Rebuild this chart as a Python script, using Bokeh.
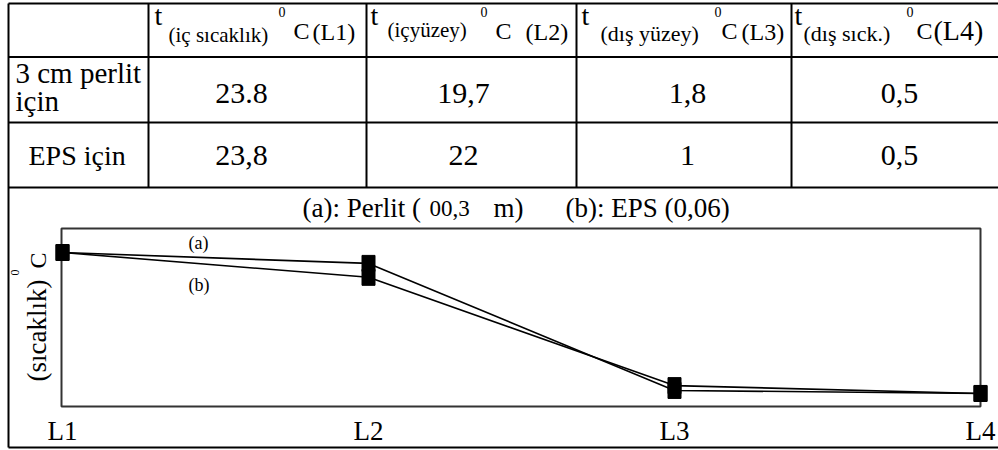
import math

from bokeh.core.properties import value
from bokeh.embed import file_html
from bokeh.models import ColumnDataSource, Range1d
from bokeh.plotting import figure
from bokeh.resources import INLINE

# ---- data -------------------------------------------------------------
stations = ["L1", "L2", "L3", "L4"]
station_idx = [0, 1, 2, 3]
header_subscripts = ["(iç sıcaklık)", "(içyüzey)", "(dış yüzey)", "(dış sıck.)"]
row_labels = ["3 cm perlit", "için", "EPS için"]
perlit_values = [23.8, 19.7, 1.8, 0.5]
eps_values = [23.8, 22.0, 1.0, 0.5]
perlit_labels = ["23.8", "19,7", "1,8", "0,5"]
eps_labels = ["23,8", "22", "1", "0,5"]
series_tags = ["(a)", "(b)"]
y_title = "(sıcaklık)"

# ---- page geometry (pixels, y grows downward) -------------------------
W, H = 998, 450
FONT = "Liberation Serif"
LINE = "black"
# the svg text sits a little low on its baseline; pull it back by this share of the size
BASE_SHIFT = 0.37

col_edges = [8, 148, 366, 576, 791]
row_edges = [3, 56.5, 122, 187, 447]
box = dict(left=61, right=980, top=228, bottom=406)

# chart scale: category index -> px, degree -> px
X0_PX, STEP_PX = 62, 306
ZERO_PX, PX_PER_DEG = 396, 6.05

p = figure(
    width=W, height=H,
    x_range=Range1d(0, W), y_range=Range1d(H, 0),
    x_axis_location=None, y_axis_location=None,
    output_backend="svg", toolbar_location=None, min_border=0,
)
p.grid.visible = False
p.outline_line_color = None
p.background_fill_color = "white"
p.border_fill_color = "white"

p.extra_x_ranges = {"chart": Range1d(-X0_PX / STEP_PX, (W - X0_PX) / STEP_PX)}
p.extra_y_ranges = {"chart": Range1d((ZERO_PX - H) / PX_PER_DEG, ZERO_PX / PX_PER_DEG)}


def txt(x, y, s, size, align="left", vertical=False):
    shift = BASE_SHIFT * size
    if vertical:
        x, y, angle = x - shift, y, math.pi / 2
    else:
        x, y, angle = x, y - shift, 0.0
    p.text(
        x=[x], y=[y], text=[s],
        text_font=value(FONT), text_font_size=f"{size}px",
        text_align=align, text_baseline="alphabetic",
        text_color="black", angle=angle,
    )


# ---- table rules ------------------------------------------------------
hy = row_edges
p.segment(x0=[col_edges[0]] * len(hy), y0=hy, x1=[W] * len(hy), y1=hy,
          line_color=LINE, line_width=2)
p.segment(x0=[col_edges[0]], y0=[row_edges[0]], x1=[col_edges[0]], y1=[row_edges[-1]],
          line_color=LINE, line_width=2)
vx = col_edges[1:]
p.segment(x0=vx, y0=[row_edges[0]] * len(vx), x1=vx, y1=[row_edges[3]] * len(vx),
          line_color=LINE, line_width=2)

# ---- header row -------------------------------------------------------
t_x = [154, 370, 581, 794]
sub_x = [168, 387, 600, 803]
sub_base = [42, 37, 41, 41]
sub_size = [21, 21, 22, 22]
deg_x = [278, 480, 714, 906]
c_x = [293, 495, 721, 916]
lab_x = [312, 525, 741, 933]
lab_size = [24, 24, 24, 28]
for i in range(4):
    txt(t_x[i], 25, "t", 28)
    txt(sub_x[i], sub_base[i], header_subscripts[i], sub_size[i])
    txt(deg_x[i], 17, "0", 14)
    txt(c_x[i], 39, "C", 24)
    txt(lab_x[i], 40, f"({stations[i]})", lab_size[i])

# ---- body rows --------------------------------------------------------
txt(15, 83, row_labels[0], 29)
txt(15, 111, row_labels[1], 29)
txt(28, 165, row_labels[2], 28)

num_cx = [241, 463, 687, 899]
for i in range(4):
    txt(num_cx[i], 104, perlit_labels[i], 30, align="center")
    txt(num_cx[i], 166, eps_labels[i], 30, align="center")

# ---- chart cell -------------------------------------------------------
txt(302, 217, "(a): Perlit (", 27)
txt(429, 217, "00,3", 23)
txt(493, 217, "m)", 27)
txt(565, 217, "(b): EPS (0,06)", 27)

p.quad(left=[box["left"]], right=[box["right"]], top=[box["top"]], bottom=[box["bottom"]],
       fill_color=None, line_color="#333333", line_width=2)

txt(188, 249, series_tags[0], 18)
txt(188, 291, series_tags[1], 18)

# vertical axis title
txt(46, 381, y_title, 27, vertical=True)
txt(19, 275, "0", 12, vertical=True)
txt(46, 268, "C", 24, vertical=True)

# category labels under the plot box
lab_size_px = 27
src_lab = ColumnDataSource(dict(x=station_idx, y=[440 - BASE_SHIFT * lab_size_px] * 4, t=stations))
p.text(x="x", y="y", text="t", source=src_lab, x_range_name="chart",
       text_font=value(FONT), text_font_size=f"{lab_size_px}px", text_align="center",
       text_baseline="alphabetic", text_color="black")

# temperature profiles
for vals in (perlit_values, eps_values):
    src = ColumnDataSource(dict(x=station_idx, y=vals))
    p.line(x="x", y="y", source=src, x_range_name="chart", y_range_name="chart",
           line_color="black", line_width=1.6)
    p.rect(x="x", y="y", width=13, height=16, width_units="screen", height_units="screen",
           source=src, x_range_name="chart", y_range_name="chart",
           fill_color="black", line_color="black")

open("out.html", "w").write(file_html(p, INLINE))
